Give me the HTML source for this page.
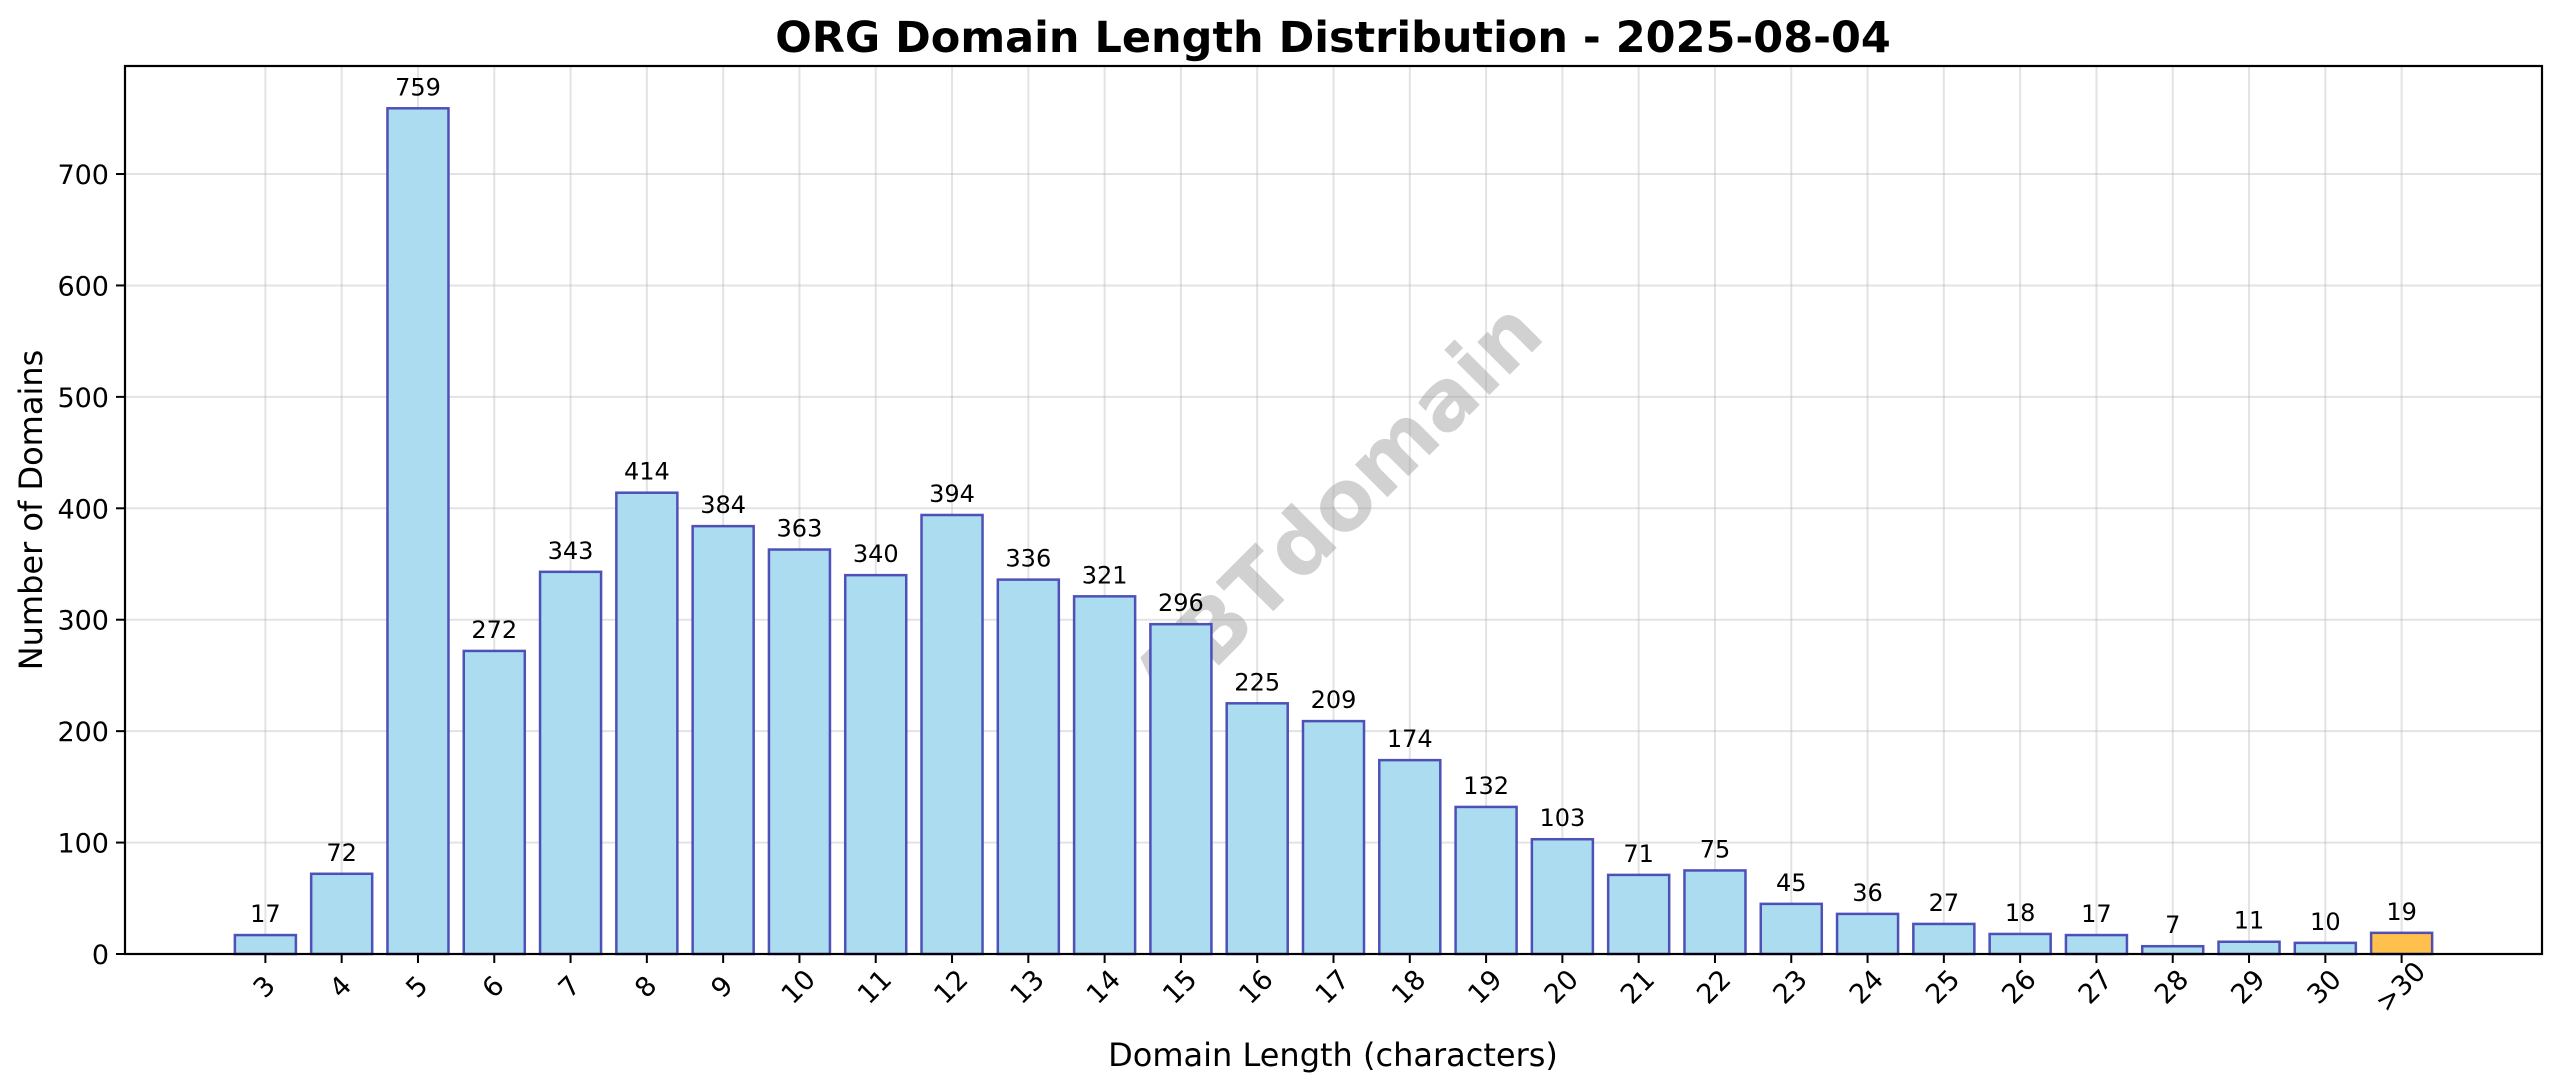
<!DOCTYPE html>
<html><head><meta charset="utf-8"><style>
html,body{margin:0;padding:0;background:#fff;}
svg{display:block;font-family:"DejaVu Sans","Liberation Sans",sans-serif;}
</style></head><body>
<svg id="chart" width="2560" height="1087" viewBox="0 0 2560 1087" xmlns="http://www.w3.org/2000/svg">
<rect width="2560" height="1087" fill="#fff"/>
<text x="1333" y="52" text-anchor="middle" font-size="43" font-weight="bold" fill="#000">ORG Domain Length Distribution - 2025-08-04</text>
<text transform="translate(42,510) rotate(-90)" text-anchor="middle" font-size="32" fill="#000">Number of Domains</text>
<text x="1333" y="1066" text-anchor="middle" font-size="32" fill="#000">Domain Length (characters)</text>
<g id="grid"></g>
<text transform="translate(1341,511) rotate(-45)" text-anchor="middle" dominant-baseline="middle" font-size="84" font-weight="bold" fill="#999" fill-opacity="0.45">ABTdomain</text>
<g id="bars"></g>
<g id="axes"></g>
</svg>
<script>
const categories = ["3","4","5","6","7","8","9","10","11","12","13","14","15","16","17","18","19","20","21","22","23","24","25","26","27","28","29","30",">30"];
const counts = [17,72,759,272,343,414,384,363,340,394,336,321,296,225,209,174,132,103,71,75,45,36,27,18,17,7,11,10,19];
const yTicks = [0,100,200,300,400,500,600,700];

const NS = "http://www.w3.org/2000/svg";
const L = 125, R = 2542, T = 66, B = 954;
const n = categories.length;
const xMin = -0.4 - 0.05*(n - 1 + 0.8), xMax = (n - 1) + 0.4 + 0.05*(n - 1 + 0.8);
const yMax = Math.max(...counts) * 1.05;
function xScale(i){ return L + (i - xMin) / (xMax - xMin) * (R - L); }
function yScale(v){ return B - v / yMax * (B - T); }
function mk(tag, attrs, parent){ const e = document.createElementNS(NS, tag); for (const k in attrs) e.setAttribute(k, attrs[k]); parent.appendChild(e); return e; }

const grid = document.getElementById('grid');
const bars = document.getElementById('bars');
const axes = document.getElementById('axes');

yTicks.forEach(t => {
  const y = yScale(t);
  const g = mk('line', {x1:L, x2:R, y1:y, y2:y, stroke:'#b0b0b0', 'stroke-opacity':0.35, 'stroke-width':2}, grid);
  
  
  const tk = mk('line', {x1:L-9, x2:L, y1:y, y2:y, stroke:'#000', 'stroke-width':2}, axes);
  
  
  const lb = mk('text', {x:L-16, y:y+10, 'text-anchor':'end', 'font-size':27, fill:'#000'}, axes);
  lb.textContent = t;
  
  
});

const bw = 0.8 * (xScale(1) - xScale(0));
categories.forEach((c, i) => {
  const x = xScale(i);
  const g = mk('line', {x1:x, x2:x, y1:T, y2:B, stroke:'#b0b0b0', 'stroke-opacity':0.35, 'stroke-width':2}, grid);
  
  
  const v = counts[i];
  const yt = yScale(v);
  const isLast = c === '>30';
  const r = mk('rect', {x:x-bw/2, y:yt, width:bw, height:B-yt, fill:isLast ? '#ffc04d' : '#abdcf0', stroke:'#3f3fb0', 'stroke-opacity':0.9, 'stroke-width':2.5}, bars);
  
  
  const vl = mk('text', {x:x, y:yt-13, 'text-anchor':'middle', 'font-size':24, fill:'#000'}, bars);
  vl.textContent = v;
  
  
  const tk = mk('line', {x1:x, x2:x, y1:B, y2:B+9, stroke:'#000', 'stroke-width':2}, axes);
  
  
  const lb = mk('text', {transform:'translate(' + x + ',' + 988 + ') rotate(-45)', 'text-anchor':'middle', 'dominant-baseline':'middle', 'font-size':27, fill:'#000'}, axes);
  lb.textContent = c;
  
  
});

const frame = mk('rect', {x:L, y:T, width:R-L, height:B-T, fill:'none', stroke:'#000', 'stroke-width':2.2}, axes);


</script>
</body></html>
